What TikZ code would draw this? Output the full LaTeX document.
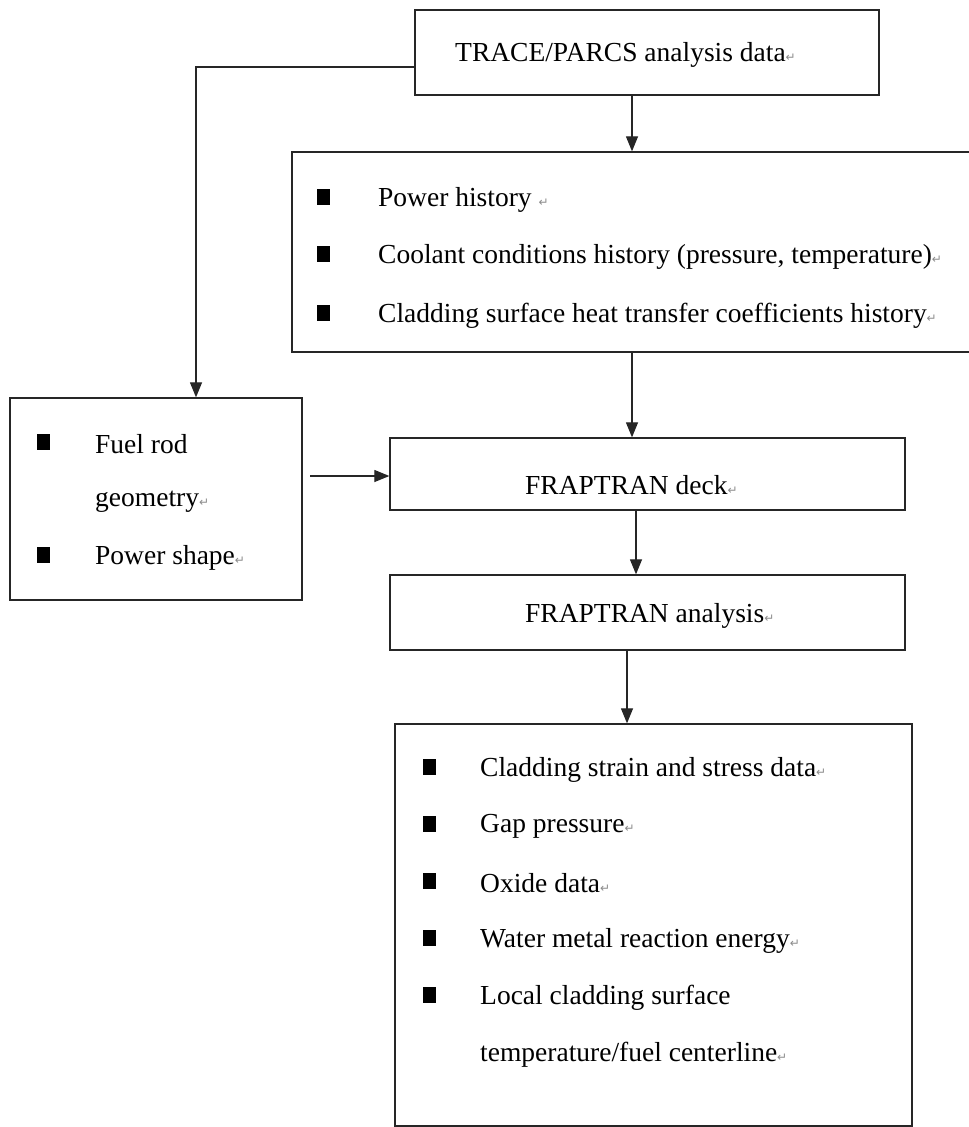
\documentclass[tikz,border=0pt]{standalone}
\usepackage{fontspec}
\setmainfont{Liberation Serif}
\newfontfamily\symfont{DejaVu Sans}
\usetikzlibrary{arrows.meta}
\newcommand{\retmark}{{\symfont\color{black!45}\fontsize{12}{12}\selectfont ↵}}
\begin{document}
\begin{tikzpicture}[x=1pt,y=-1pt,
  box/.style={draw=black!85, line width=1.3pt, rectangle, inner sep=0pt, fill=white},
  lbl/.style={font=\fontsize{27.5}{30}\selectfont, inner sep=0pt, anchor=west, yshift=-2.5pt},
  bul/.style={fill=black, minimum width=13pt, minimum height=16pt, inner sep=0pt},
  arr/.style={-{Triangle[length=15pt,width=12pt]}, line width=1.2pt, draw=black!85}]
\useasboundingbox (0,0) rectangle (969,1127);
\clip (0,0) rectangle (969,1127);
% boxes
\node[box, minimum width=464pt, minimum height=85pt] (top) at (647,52.5) {};
\node[box, minimum width=698pt, minimum height=200pt] (hist) at (641,252) {};
\node[box, minimum width=292pt, minimum height=202pt] (left) at (156,499) {};
\node[box, minimum width=515pt, minimum height=72pt] (deck) at (647.5,474) {};
\node[box, minimum width=515pt, minimum height=75pt] (anal) at (647.5,612.5) {};
\node[box, minimum width=517pt, minimum height=402pt] (out) at (653.5,925) {};
% texts
\node[lbl] (ttop) at (455,52) {TRACE/PARCS analysis data\retmark};
\node[bul] (b1) at (323,197) {}; \node[lbl] (t1) at (378,197) {Power history \retmark};
\node[bul] (b2) at (323,254) {}; \node[lbl] (t2) at (378,254) {Coolant conditions history (pressure, temperature)\retmark};
\node[bul] (b3) at (323,313) {}; \node[lbl] (t3) at (378,313) {Cladding surface heat transfer coefficients history\retmark};
\node[bul] (b4) at (43,442) {}; \node[lbl] (t4) at (95,442) {Fuel rod};
\node[lbl] (t5) at (95,499) {geometry\retmark};
\node[bul] (b6) at (43,555) {}; \node[lbl] (t6) at (95,555) {Power shape\retmark};
\node[lbl] (tdeck) at (525,483) {FRAPTRAN deck\retmark};
\node[lbl] (tanal) at (525,613) {FRAPTRAN analysis\retmark};
\node[bul] (b7) at (429,767) {}; \node[lbl] (t7) at (480,767) {Cladding strain and stress data\retmark};
\node[bul] (b8) at (429,824) {}; \node[lbl] (t8) at (480,824) {Gap pressure\retmark};
\node[bul] (b9) at (429,881) {}; \node[lbl] (t9) at (480,881) {Oxide data\retmark};
\node[bul] (b10) at (429,938) {}; \node[lbl] (t10) at (480,938) {Water metal reaction energy\retmark};
\node[bul] (b11) at (429,995) {}; \node[lbl] (t11) at (480,995) {Local cladding surface};
\node[lbl] (t12) at (480,1052) {temperature/fuel centerline\retmark};
% connectors
\coordinate (c1) at (632,0);
\coordinate (c2) at (636,0);
\coordinate (c3) at (627,0);
\coordinate (lk) at (196,67);
\coordinate (la) at (310,476);
\draw[arr] (top.south -| c1) -- (hist.north -| c1);
\draw[arr] (hist.south -| c1) -- (deck.north -| c1);
\draw[arr] (top.west |- lk) -- (lk) -- (left.north -| lk);
\draw[arr] (la) -- (deck.west |- la);
\draw[arr] (deck.south -| c2) -- (anal.north -| c2);
\draw[arr] (anal.south -| c3) -- (out.north -| c3);
\end{tikzpicture}
\end{document}
